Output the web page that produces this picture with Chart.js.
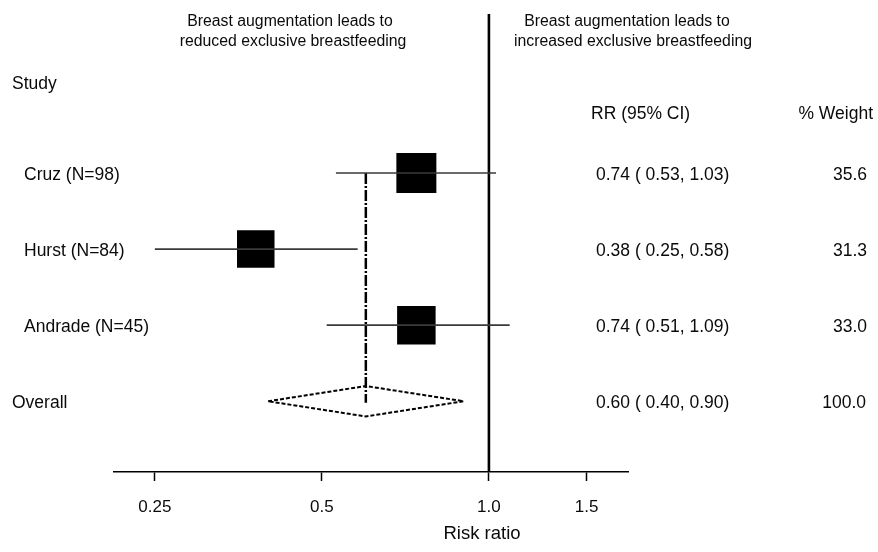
<!DOCTYPE html>
<html lang="en">
<head>
<meta charset="UTF-8">
<title>Forest plot - exclusive breastfeeding</title>
<script src="https://cdn.jsdelivr.net/npm/chart.js"></script>
<style>
    html, body { margin: 0; padding: 0; background: #ffffff; }
    #wrap { width: 878px; height: 552px; position: relative; }
</style>
</head>
<body>
<div id="wrap"><canvas id="forest"></canvas></div>
<script>
// study data
const studies = ['Cruz (N=98)', 'Hurst (N=84)', 'Andrade (N=45)'];
const rr = [0.74, 0.38, 0.74];
const lower = [0.53, 0.25, 0.51];
const upper = [1.03, 0.58, 1.09];
const weights = [35.6, 31.3, 33.0];

// pooled estimate
const overallLabel = 'Overall';
const overallRR = 0.60;
const overallLower = 0.40;
const overallUpper = 0.90;
const overallWeight = 100.0;

// axis
const xTicks = [0.25, 0.5, 1.0, 1.5];
const xTickLabels = ['0.25', '0.5', '1.0', '1.5'];
const nullValue = 1.0;

const FONT = 'Arial, "Liberation Sans", sans-serif';
const TEXT = '#0a0a0a';
const overallRow = studies.length + 1;

// square side in px, scaled by study weight
const boxSide = i => 40 * Math.sqrt(weights[i] / 35.6);

const datasets = [];

// confidence interval lines
studies.forEach((s, i) => {
    datasets.push({
        type: 'line',
        data: [{x: lower[i], y: i + 1}, {x: upper[i], y: i + 1}],
        borderColor: '#3a3a3a',
        borderWidth: 1.6,
        pointRadius: 0,
        clip: false
    });
});

// weighted squares
datasets.push({
    type: 'scatter',
    data: rr.map((v, i) => ({x: v, y: i + 1})),
    pointStyle: 'rect',
    pointRadius: ctx => boxSide(ctx.dataIndex) / Math.SQRT2,
    pointHoverRadius: ctx => boxSide(ctx.dataIndex) / Math.SQRT2,
    pointBackgroundColor: '#000',
    pointBorderWidth: 0
});

// dash-dot line through the pooled estimate
datasets.push({
    type: 'line',
    data: [{x: overallRR, y: 1}, {x: overallRR, y: overallRow + 0.02}],
    borderColor: '#000',
    borderWidth: 2.5,
    borderDash: [11, 2, 2, 2],
    pointRadius: 0
});

// pooled diamond
const dh = 0.2;
datasets.push({
    type: 'line',
    data: [
        {x: overallLower, y: overallRow},
        {x: overallRR, y: overallRow - dh},
        {x: overallUpper, y: overallRow},
        {x: overallRR, y: overallRow + dh},
        {x: overallLower, y: overallRow}
    ],
    borderColor: '#000',
    borderWidth: 2,
    borderDash: [4, 2],
    fill: false,
    tension: 0,
    pointRadius: 0
});

// line of no effect
datasets.push({
    type: 'line',
    data: [{x: nullValue, y: -1.09}, {x: nullValue, y: 4.93}],
    borderColor: '#000',
    borderWidth: 2.6,
    pointRadius: 0,
    clip: false
});

const textPlugin = {
    id: 'forestText',
    afterDraw(chart) {
        const c = chart.ctx;
        const y = chart.scales.y;
        c.save();
        c.fillStyle = TEXT;
        c.textBaseline = 'middle';

        // header over the plot
        c.font = '15.8px ' + FONT;
        c.textAlign = 'center';
        c.fillText('Breast augmentation leads to', 290, 22);
        c.fillText('reduced exclusive breastfeeding', 293, 42);
        c.fillText('Breast augmentation leads to', 627, 22);
        c.fillText('increased exclusive breastfeeding', 633, 42);

        c.font = '17.5px ' + FONT;
        c.textAlign = 'left';
        c.fillText('Study', 12, 84);
        c.fillText('RR (95% CI)', 591, 114);
        c.textAlign = 'right';
        c.fillText('% Weight', 873, 114);

        const fmt = (a, b, d) => a.toFixed(2) + ' ( ' + b.toFixed(2) + ', ' + d.toFixed(2) + ')';
        studies.forEach((s, i) => {
            const py = y.getPixelForValue(i + 1) + 2.5;
            c.textAlign = 'left';
            c.fillText(s, 24, py);
            c.fillText(fmt(rr[i], lower[i], upper[i]), 596, py);
            c.textAlign = 'right';
            c.fillText(weights[i].toFixed(1), 867, py);
        });
        const oy = y.getPixelForValue(overallRow) + 2;
        c.textAlign = 'left';
        c.fillText(overallLabel, 12, oy);
        c.fillText(fmt(overallRR, overallLower, overallUpper), 596, oy);
        c.textAlign = 'right';
        c.fillText(overallWeight.toFixed(1), 866, oy);

        // axis title
        c.font = '18.5px ' + FONT;
        c.textAlign = 'center';
        c.fillText('Risk ratio', 482, 534);
        c.restore();
    }
};

new Chart(document.getElementById('forest'), {
    type: 'scatter',
    data: { datasets: datasets },
    options: {
        responsive: true,
        maintainAspectRatio: false,
        animation: false,
        layout: { autoPadding: false, padding: { left: 114, right: 250, top: 14, bottom: 14 } },
        plugins: {
            legend: { display: false },
            tooltip: { enabled: false }
        },
        scales: {
            x: {
                type: 'logarithmic',
                min: 0.211,
                max: 1.781,
                afterBuildTicks: scale => {
                    scale.ticks = xTicks.map(v => ({ value: v }));
                },
                afterFit: scale => { scale.height = 66; },
                ticks: {
                    autoSkip: false,
                    maxRotation: 0,
                    padding: 16,
                    color: TEXT,
                    font: { family: FONT, size: 17 },
                    callback: (v, i) => xTickLabels[i]
                },
                grid: {
                    drawOnChartArea: false,
                    drawTicks: true,
                    tickLength: 9,
                    tickWidth: 1.5,
                    tickColor: '#000'
                },
                border: { display: true, color: '#000', width: 1.5 }
            },
            y: {
                type: 'linear',
                display: false,
                reverse: true,
                min: -1.09,
                max: 4.93
            }
        }
    },
    plugins: [textPlugin]
});
</script>
</body>
</html>
